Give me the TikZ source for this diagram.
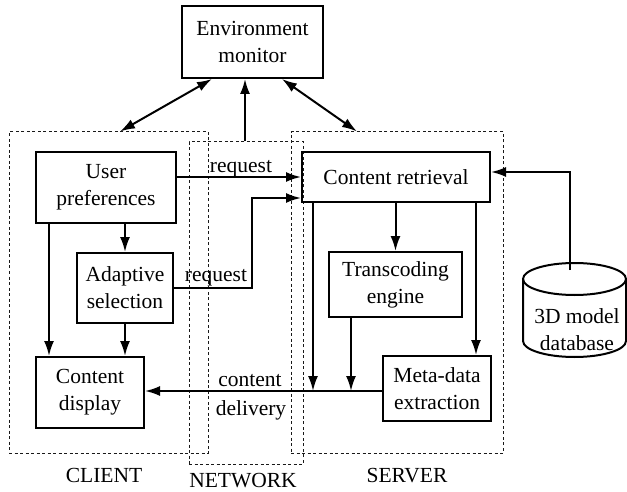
\documentclass[tikz,border=0pt]{standalone}
\usepackage{fontspec}
\setmainfont{Liberation Serif}
\newfontfamily\figfont{Liberation Serif}
\usetikzlibrary{arrows.meta}
\begin{document}
\begin{tikzpicture}[x=1pt,y=-1pt,
  font=\figfont\fontsize{21.5}{27}\selectfont,
  box/.style={draw, line width=2pt, align=center, inner sep=0pt},
  region/.style={draw=black!90, line width=1pt, dash pattern=on 3pt off 2.5pt, inner sep=0pt},
  conn/.style={line width=2pt, -{Latex[length=15pt,width=10pt]}},
  bi/.style={line width=2pt, {Latex[length=15pt,width=10pt]}-{Latex[length=15pt,width=10pt]}},
  tag/.style={anchor=base, inner sep=0pt}]

\useasboundingbox (0,0) rectangle (627,492);

% dashed regions
\node[region, minimum width=199pt, minimum height=321pt] (client)  at (108.5,292.5) {};
\node[region, minimum width=114pt, minimum height=322pt] (network) at (246,303) {};
\node[region, minimum width=212pt, minimum height=321pt] (server)  at (397,292.5) {};

% blocks
\node[box, minimum width=141pt, minimum height=72pt] (env)   at (252.5,42)   {Environment\\monitor};
\node[box, minimum width=140pt, minimum height=71pt] (user)  at (106,187.5)  {User\\preferences};
\node[box, minimum width=96pt,  minimum height=70pt] (adapt) at (125,288)    {Adaptive\\selection};
\node[box, minimum width=108pt, minimum height=71pt] (disp)  at (90,392.5)   {Content\\display};
\node[box, minimum width=188pt, minimum height=50pt] (ret)   at (396,177)    {Content retrieval};
\node[box, minimum width=133pt, minimum height=65pt] (trans) at (395.5,284.5){Transcoding\\engine};
\node[box, minimum width=108pt, minimum height=65pt] (meta)  at (437,388.5)  {Meta-data\\extraction};

% database cylinder
\draw[line width=2pt] (523,279) -- (523,341)
  arc[start angle=180, end angle=360, x radius=51.5pt, y radius=16pt] -- (626,279);
\draw[line width=2pt] (574.5,279) ellipse [x radius=51.5pt, y radius=16pt];
\node[align=center, inner sep=0pt] (db) at (577,330) {3D model\\database};

% helper points
\coordinate (xL)  at (49,0);
\coordinate (xM)  at (476,0);
\coordinate (xN)  at (245,0);
\coordinate (xE1) at (212,0);
\coordinate (xC1) at (120,0);
\coordinate (xE2) at (282,0);
\coordinate (xS1) at (357,0);
\coordinate (bend) at (252,198);
\coordinate (d1) at (313,391);
\coordinate (d2) at (351,391);
\coordinate (dbtop) at (570,270);
\coordinate (dbcorner) at (570,172);

% connectors
\draw[bi] (env.south -| xE1) -- (client.north -| xC1);
\draw[bi] (env.south -| xE2) -- (server.north -| xS1);
\draw[conn] (network.north -| xN) -- (env.south -| xN);

\draw[conn] (adapt.north |- user.south) -- (adapt.north);
\draw[conn] (user.south -| xL) -- (disp.north -| xL);
\draw[conn] (adapt.south) -- (adapt.south |- disp.north);

\draw[conn] (ret.west -| user.east) -- (ret.west);
\draw[conn] (adapt.east) -| (bend) -- (bend -| ret.west);

\draw[conn] (trans.north |- ret.south) -- (trans.north);
\draw[conn] (ret.south -| d1) -- (d1);
\draw[conn] (trans.south -| d2) -- (d2);
\draw[conn] (ret.south -| xM) -- (meta.north -| xM);
\draw[conn] (meta.west |- d1) -- (disp.east |- d1);

\draw[conn] (dbtop) -- (dbcorner) -- (dbcorner -| ret.east);

% labels
\node[tag] (lreq1) at (241,173) {request};
\node[tag] (lreq2) at (216,281) {request};
\node[tag] (lcont) at (250,386) {content};
\node[tag] (ldel)  at (251,415) {delivery};
\node[tag] (lcli)  at (104,482) {CLIENT};
\node[tag] (lnet)  at (243,487) {NETWORK};
\node[tag] (lsrv)  at (407,482) {SERVER};
\end{tikzpicture}
\end{document}
